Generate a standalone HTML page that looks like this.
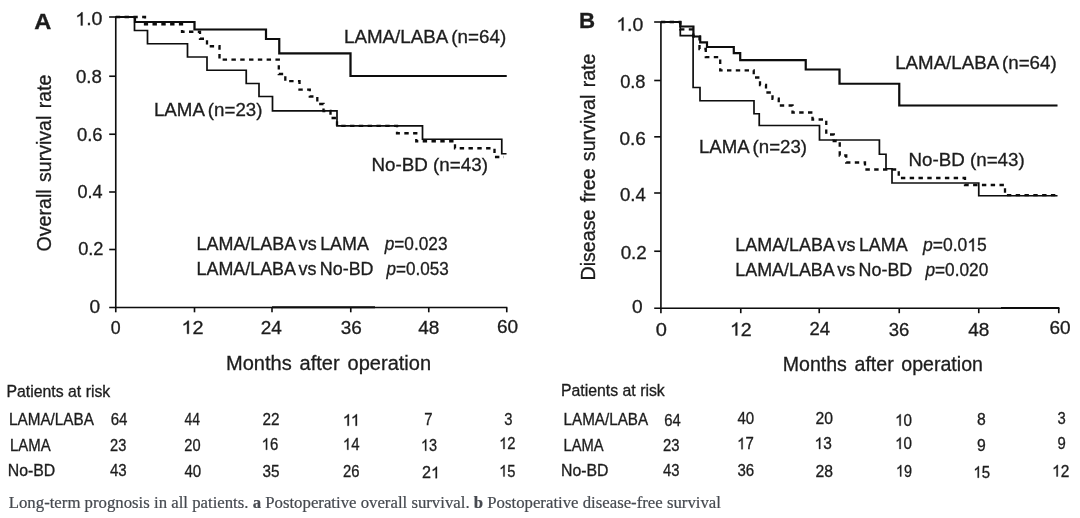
<!DOCTYPE html>
<html><head><meta charset="utf-8"><title>Figure</title>
<style>
html,body{margin:0;padding:0;background:#fff;}
body{width:1080px;height:518px;overflow:hidden;font-family:"Liberation Sans",sans-serif;}
svg{display:block;}
svg text{font-family:"Liberation Sans",sans-serif;fill:#1c1c1c;stroke:#1c1c1c;stroke-width:0.3px;}
svg use{fill:#1c1c1c;stroke:#1c1c1c;stroke-width:36px;}
.ln path{fill:none;stroke:#0a0a0a;stroke-linecap:butt;stroke-linejoin:miter;}
</style></head><body>
<svg width="1080" height="518" viewBox="0 0 1080 518">
<defs><filter id="bl" x="0" y="0" width="1080" height="518" filterUnits="userSpaceOnUse"><feGaussianBlur stdDeviation="0.42"/></filter>
<path id="one" d="M763 0H583V1147Q518 1085 412.5 1023T223 930V1104Q373 1174.5 485.5 1275T644 1469H763Z"/></defs>
<rect width="1080" height="518" fill="#fff"/>
<g filter="url(#bl)">
<g class="ln">
<path d="M115.75,16.4 V307.5" stroke-width="1.6"/>
<path d="M109.2,307.5 H507.3" stroke-width="1.65"/>
<path d="M272,307.3 H375" stroke-width="2.1"/>
<path d="M109.2,17 H115.75" stroke-width="1.6"/>
<path d="M109.2,76.25 H115.75" stroke-width="1.6"/>
<path d="M109.2,134.25 H115.75" stroke-width="1.6"/>
<path d="M109.2,192 H115.75" stroke-width="1.6"/>
<path d="M109.2,249.5 H115.75" stroke-width="1.6"/>
<path d="M115.75,307.5 V312.3" stroke-width="1.6"/>
<path d="M194.5,307.5 V312.3" stroke-width="1.6"/>
<path d="M272,307.5 V312.3" stroke-width="1.6"/>
<path d="M350.75,307.5 V312.3" stroke-width="1.6"/>
<path d="M428.75,307.5 V312.3" stroke-width="1.6"/>
<path d="M506.75,307.5 V312.3" stroke-width="1.6"/>
<path d="M660.9,21.4 V308.2" stroke-width="1.6"/>
<path d="M654.2,308.2 H1059.3" stroke-width="1.65"/>
<path d="M1001,308.0 H1059.3" stroke-width="2.1"/>
<path d="M654.2,22 H660.9" stroke-width="1.6"/>
<path d="M654.2,80.5 H660.9" stroke-width="1.6"/>
<path d="M654.2,136.8 H660.9" stroke-width="1.6"/>
<path d="M654.2,193 H660.9" stroke-width="1.6"/>
<path d="M654.2,251.25 H660.9" stroke-width="1.6"/>
<path d="M660.9,308.2 V313.2" stroke-width="1.6"/>
<path d="M740.75,308.2 V313.2" stroke-width="1.6"/>
<path d="M819.25,308.2 V313.2" stroke-width="1.6"/>
<path d="M899.25,308.2 V313.2" stroke-width="1.6"/>
<path d="M978.75,308.2 V313.2" stroke-width="1.6"/>
<path d="M1058.75,308.2 V313.2" stroke-width="1.6"/>
<path d="M115.75,17 H135 V22 H194.5 V29.5 H266 V39 H279.25 V53.4 H350.5 V76 H506.75" stroke-width="2.2"/>
<path d="M115.75,17 H134.5 V30.5 H147.5 V43.75 H187.5 V57 H207 V70.25 H246.25 V83.5 H259 V96.5 H272.5 V110.9 H337 V125.9 H422.5 V139.25 H501.75 V153.75 H506.5" stroke-width="1.7"/>
<path d="M115.75,17 H145 V24.25 H182 V31.75 H200 V38.75 H207 V46.25 H219.5 V59.7 H278.8 V74 H285.3 V81.2 H299.5 V89.6 H309.8 V96.5 H317.3 V104 H323.5 V111 H330.5 V118 H337 V125.9 H397 V133.25 H416.25 V141.25 H455 V148.25 H494.5 V157 H504" stroke-width="2.3" stroke-dasharray="4.4 4.4"/>
<path d="M660.9,22 H680.3 V26.5 H693.4 V36.5 H700.2 V42.4 H707 V47 H733.8 V53.1 H740.2 V60.2 H805.75 V69.5 H839.5 V83.75 H899.25 V105.5 H1057.5" stroke-width="2.2"/>
<path d="M660.9,22 H680.3 V35.7 H693.1 V87.5 H700 V100.75 H754 V113.75 H759.25 V125.5 H819.5 V140 H879.4 V154.25 H886 V168.75 H892 V183 H978.75 V195.75 H1057.5" stroke-width="1.7"/>
<path d="M660.9,22 H680.3 V29.3 H693.3 V36.3 H699.5 V49 H705.8 V57.1 H720.2 V70.3 H753.75 V77.5 H760 V85 H766 V92.5 H772.5 V98.75 H778.75 V105.5 H792.5 V112.5 H812.5 V119.5 H826.25 V134.5 H833.75 V141 H839.75 V155.5 H846.25 V162.5 H865 V169.5 H898.75 V178 H965 V185 H1005 V195.2 H1057.5" stroke-width="2.3" stroke-dasharray="4.4 4.4"/>
</g>
<g>
<g transform="matrix(1.1000 0 0 1 34.25 29.25)" font-weight="bold"><text font-size="21.5">A</text></g>
<g transform="matrix(1.0357 0 0 1 578.96 28.20)" font-weight="bold"><text font-size="21.5">B</text></g>
<g transform="matrix(1.0782 0 0 1 75.26 25.40)"><use href="#one" transform="translate(0.000 0) scale(0.008887 -0.008887)"/><text x="10.115" font-size="18.2">.0</text></g>
<g transform="matrix(1.0251 0 0 1 76.00 83.20)"><text font-size="18.2">0.8</text></g>
<g transform="matrix(1.0132 0 0 1 76.90 140.75)"><text font-size="18.2">0.6</text></g>
<g transform="matrix(0.9933 0 0 1 77.40 198.25)"><text font-size="18.2">0.4</text></g>
<g transform="matrix(1.0033 0 0 1 78.15 255.20)"><text font-size="18.2">0.2</text></g>
<g transform="matrix(1.0500 0 0 1 89.40 313.25)"><text font-size="18.2">0</text></g>
<g transform="matrix(0.9750 0 0 1 110.65 334.30)"><text font-size="18.2">0</text></g>
<g transform="matrix(1.0919 0 0 1 181.44 333.75)"><use href="#one" transform="translate(0.000 0) scale(0.008887 -0.008887)"/><text x="10.115" font-size="18.2">2</text></g>
<g transform="matrix(1.0440 0 0 1 260.65 333.75)"><text font-size="18.2">24</text></g>
<g transform="matrix(1.0440 0 0 1 340.65 333.50)"><text font-size="18.2">36</text></g>
<g transform="matrix(1.0440 0 0 1 418.15 333.50)"><text font-size="18.2">48</text></g>
<g transform="matrix(1.0440 0 0 1 496.90 332.70)"><text font-size="18.2">60</text></g>
<g transform="matrix(1.0696 0 0 1 616.28 30.50)"><use href="#one" transform="translate(0.000 0) scale(0.008887 -0.008887)"/><text x="10.115" font-size="18.2">.0</text></g>
<g transform="matrix(1.0033 0 0 1 620.15 87.50)"><text font-size="18.2">0.8</text></g>
<g transform="matrix(1.0450 0 0 1 619.40 144.50)"><text font-size="18.2">0.6</text></g>
<g transform="matrix(1.0251 0 0 1 619.90 200.50)"><text font-size="18.2">0.4</text></g>
<g transform="matrix(1.0331 0 0 1 620.65 258.50)"><text font-size="18.2">0.2</text></g>
<g transform="matrix(1.0500 0 0 1 631.90 313.20)"><text font-size="18.2">0</text></g>
<g transform="matrix(1.1000 0 0 1 655.65 335.50)"><text font-size="18.2">0</text></g>
<g transform="matrix(1.0781 0 0 1 729.96 335.50)"><use href="#one" transform="translate(0.000 0) scale(0.008887 -0.008887)"/><text x="10.115" font-size="18.2">2</text></g>
<g transform="matrix(1.0191 0 0 1 809.40 335.00)"><text font-size="18.2">24</text></g>
<g transform="matrix(1.0191 0 0 1 888.65 336.25)"><text font-size="18.2">36</text></g>
<g transform="matrix(1.0440 0 0 1 968.15 336.25)"><text font-size="18.2">48</text></g>
<g transform="matrix(1.0440 0 0 1 1049.40 334.25)"><text font-size="18.2">60</text></g>
<g transform="matrix(1.0020 0 0 1 226.00 370.00)"><text font-size="20" word-spacing="2.3">Months after operation</text></g>
<g transform="matrix(0.9786 0 0 1 782.77 370.60)"><text font-size="20" word-spacing="2.3">Months after operation</text></g>
<g transform="matrix(1.0445 0 0 1 343.96 42.50)"><text font-size="18" word-spacing="-1.2">LAMA/LABA (n=64)</text></g>
<g transform="matrix(1.0401 0 0 1 153.96 116.10)"><text font-size="18" word-spacing="-1.2">LAMA (n=23)</text></g>
<g transform="matrix(1.0452 0 0 1 371.45 171.25)"><text font-size="18">No-BD (n=43)</text></g>
<g transform="matrix(1.0396 0 0 1 895.21 68.75)"><text font-size="18" word-spacing="-1.2">LAMA/LABA (n=64)</text></g>
<g transform="matrix(1.0353 0 0 1 698.96 152.50)"><text font-size="18" word-spacing="-1.2">LAMA (n=23)</text></g>
<g transform="matrix(1.0429 0 0 1 908.46 166.25)"><text font-size="18">No-BD (n=43)</text></g>
<g transform="matrix(0.9968 0 0 1 196.50 250.00)"><text font-size="18" word-spacing="-1.5">LAMA/LABA vs LAMA</text></g>
<g transform="matrix(0.9578 0 0 1 384.71 250.00)"><text font-size="18" font-style="italic">p</text><g transform="translate(10.011 0)"><text font-size="18">=0.023</text></g></g>
<g transform="matrix(0.9955 0 0 1 196.50 275.00)"><text font-size="18" word-spacing="-1.5">LAMA/LABA vs No-BD</text></g>
<g transform="matrix(0.9503 0 0 1 386.45 275.00)"><text font-size="18" font-style="italic">p</text><g transform="translate(10.011 0)"><text font-size="18">=0.053</text></g></g>
<g transform="matrix(0.9968 0 0 1 735.25 251.25)"><text font-size="18" word-spacing="-1.5">LAMA/LABA vs LAMA</text></g>
<g transform="matrix(0.9729 0 0 1 922.97 251.25)"><text font-size="18" font-style="italic">p</text><g transform="translate(10.011 0)"><text x="0.000" font-size="18">=0.0</text><use href="#one" transform="translate(35.534 0) scale(0.008789 -0.008789)"/><text x="45.545" font-size="18">5</text></g></g>
<g transform="matrix(0.9955 0 0 1 735.25 276.25)"><text font-size="18" word-spacing="-1.5">LAMA/LABA vs No-BD</text></g>
<g transform="matrix(0.9578 0 0 1 925.46 276.25)"><text font-size="18" font-style="italic">p</text><g transform="translate(10.011 0)"><text font-size="18">=0.020</text></g></g>
<g transform="matrix(1.0151 0 0 1 6.48 396.75)"><text font-size="15.6">Patients at risk</text></g>
<g transform="matrix(0.9795 0 0 1 9.02 425.25)"><text font-size="15.6">LAMA/LABA</text></g>
<g transform="matrix(0.9581 0 0 1 10.04 451.25)"><text font-size="15.6">LAMA</text></g>
<g transform="matrix(1.0159 0 0 1 7.73 476.25)"><text font-size="15.6">No-BD</text></g>
<g transform="matrix(0.9304 0 0 1 110.75 425.25)"><text font-size="16.2">64</text></g>
<g transform="matrix(0.8610 0 0 1 184.50 425.25)"><text font-size="16.2">44</text></g>
<g transform="matrix(0.9443 0 0 1 262.50 424.75)"><text font-size="16.2">22</text></g>
<g transform="matrix(1.0352 0 0 1 342.67 425.75)"><use href="#one" transform="translate(0.000 0) scale(0.007910 -0.007910)"/><use href="#one" transform="translate(7.804 0) scale(0.007910 -0.007910)"/></g>
<g transform="matrix(0.9167 0 0 1 424.25 424.75)"><text font-size="16.2">7</text></g>
<g transform="matrix(0.9167 0 0 1 504.25 424.75)"><text font-size="16.2">3</text></g>
<g transform="matrix(0.9026 0 0 1 110.00 450.50)"><text font-size="16.2">23</text></g>
<g transform="matrix(0.9026 0 0 1 184.25 450.50)"><text font-size="16.2">20</text></g>
<g transform="matrix(0.9237 0 0 1 261.62 449.75)"><use href="#one" transform="translate(0.000 0) scale(0.007910 -0.007910)"/><text x="9.003" font-size="16.2">6</text></g>
<g transform="matrix(0.9237 0 0 1 342.87 449.75)"><use href="#one" transform="translate(0.000 0) scale(0.007910 -0.007910)"/><text x="9.003" font-size="16.2">4</text></g>
<g transform="matrix(0.8929 0 0 1 420.92 450.75)"><use href="#one" transform="translate(0.000 0) scale(0.007910 -0.007910)"/><text x="9.003" font-size="16.2">3</text></g>
<g transform="matrix(0.9083 0 0 1 499.15 449.00)"><use href="#one" transform="translate(0.000 0) scale(0.007910 -0.007910)"/><text x="9.003" font-size="16.2">2</text></g>
<g transform="matrix(0.9304 0 0 1 110.00 476.25)"><text font-size="16.2">43</text></g>
<g transform="matrix(0.9304 0 0 1 184.50 477.00)"><text font-size="16.2">40</text></g>
<g transform="matrix(0.9443 0 0 1 262.50 476.50)"><text font-size="16.2">35</text></g>
<g transform="matrix(0.9165 0 0 1 343.00 476.50)"><text font-size="16.2">26</text></g>
<g transform="matrix(0.9975 0 0 1 422.00 478.25)"><text x="0.000" font-size="16.2">2</text><use href="#one" transform="translate(9.003 0) scale(0.007910 -0.007910)"/></g>
<g transform="matrix(0.9083 0 0 1 499.15 476.50)"><use href="#one" transform="translate(0.000 0) scale(0.007910 -0.007910)"/><text x="9.003" font-size="16.2">5</text></g>
<g transform="matrix(1.0151 0 0 1 560.98 396.25)"><text font-size="15.6">Patients at risk</text></g>
<g transform="matrix(0.9766 0 0 1 563.52 425.00)"><text font-size="15.6">LAMA/LABA</text></g>
<g transform="matrix(0.9450 0 0 1 563.55 450.75)"><text font-size="15.6">LAMA</text></g>
<g transform="matrix(1.0159 0 0 1 560.98 475.75)"><text font-size="15.6">No-BD</text></g>
<g transform="matrix(0.9165 0 0 1 664.25 425.75)"><text font-size="16.2">64</text></g>
<g transform="matrix(0.9304 0 0 1 737.50 424.25)"><text font-size="16.2">40</text></g>
<g transform="matrix(0.9721 0 0 1 815.50 424.00)"><text font-size="16.2">20</text></g>
<g transform="matrix(0.9391 0 0 1 895.09 425.75)"><use href="#one" transform="translate(0.000 0) scale(0.007910 -0.007910)"/><text x="9.003" font-size="16.2">0</text></g>
<g transform="matrix(0.9722 0 0 1 977.00 424.75)"><text font-size="16.2">8</text></g>
<g transform="matrix(0.9167 0 0 1 1057.50 423.50)"><text font-size="16.2">3</text></g>
<g transform="matrix(0.9165 0 0 1 663.00 450.75)"><text font-size="16.2">23</text></g>
<g transform="matrix(0.9237 0 0 1 737.12 449.25)"><use href="#one" transform="translate(0.000 0) scale(0.007910 -0.007910)"/><text x="9.003" font-size="16.2">7</text></g>
<g transform="matrix(0.9545 0 0 1 814.57 449.00)"><use href="#one" transform="translate(0.000 0) scale(0.007910 -0.007910)"/><text x="9.003" font-size="16.2">3</text></g>
<g transform="matrix(0.9391 0 0 1 895.09 449.00)"><use href="#one" transform="translate(0.000 0) scale(0.007910 -0.007910)"/><text x="9.003" font-size="16.2">0</text></g>
<g transform="matrix(0.9722 0 0 1 977.00 450.75)"><text font-size="16.2">9</text></g>
<g transform="matrix(0.9167 0 0 1 1057.50 449.00)"><text font-size="16.2">9</text></g>
<g transform="matrix(0.9165 0 0 1 663.00 476.00)"><text font-size="16.2">43</text></g>
<g transform="matrix(0.9304 0 0 1 737.50 476.00)"><text font-size="16.2">36</text></g>
<g transform="matrix(0.9721 0 0 1 815.50 476.50)"><text font-size="16.2">28</text></g>
<g transform="matrix(0.8929 0 0 1 895.92 476.50)"><use href="#one" transform="translate(0.000 0) scale(0.007910 -0.007910)"/><text x="9.003" font-size="16.2">9</text></g>
<g transform="matrix(0.9237 0 0 1 973.37 477.75)"><use href="#one" transform="translate(0.000 0) scale(0.007910 -0.007910)"/><text x="9.003" font-size="16.2">5</text></g>
<g transform="matrix(0.9545 0 0 1 1052.07 476.50)"><use href="#one" transform="translate(0.000 0) scale(0.007910 -0.007910)"/><text x="9.003" font-size="16.2">2</text></g>
<text transform="matrix(0 -0.9987 1.0300 0 50.90 251.40)" font-size="19.6" word-spacing="2">Overall survival rate</text>
<text transform="matrix(0 -1.0028 1.0300 0 595.40 280.50)" font-size="19.6" word-spacing="1.8">Disease free survival rate</text>
<text xml:space="preserve" transform="matrix(1.0223 0 0 1 8.75 507.70)" style="font-family:'Liberation Serif',serif;fill:#464a50;stroke:#464a50;stroke-width:0.22px" font-size="16.4">Long-term prognosis in all patients. <tspan font-weight="bold">a</tspan> Postoperative overall survival. <tspan font-weight="bold">b</tspan> Postoperative disease-free survival</text>
</g>
</g>
</svg>
</body></html>
